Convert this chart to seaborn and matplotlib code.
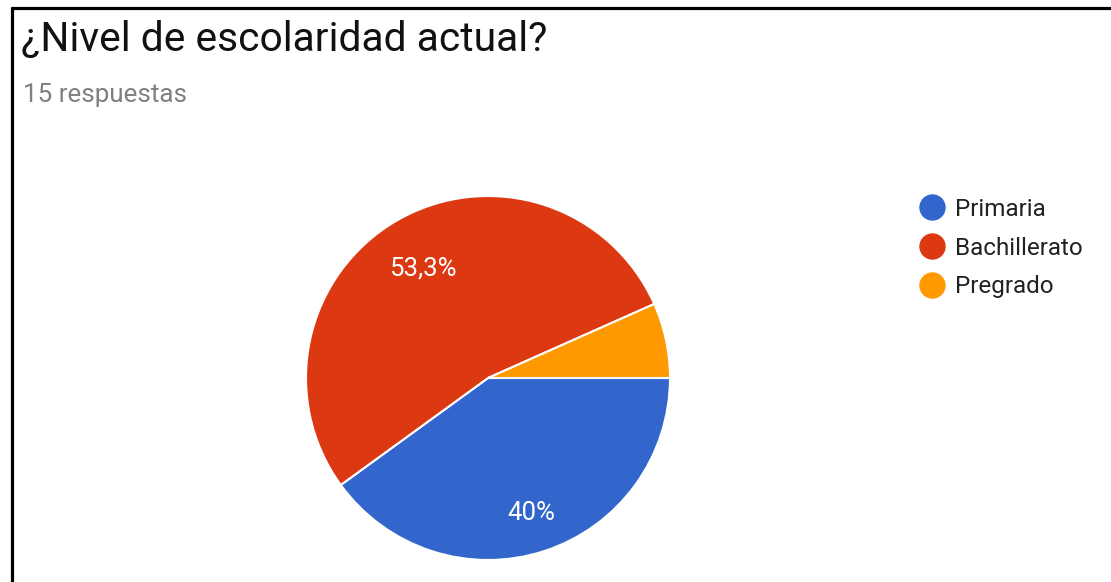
import matplotlib
matplotlib.use("Agg")
import matplotlib.pyplot as plt
from matplotlib.lines import Line2D
import numpy as np
import seaborn as sns

# Survey results: current education level
categories = ["Primaria", "Bachillerato", "Pregrado"]
counts = [6, 8, 1]
pct_labels = ["40%", "53,3%", ""]
colors = ["#3366CC", "#DC3912", "#FF9900"]
title = "¿Nivel de escolaridad actual?"
subtitle = "15 respuestas"

sns.set_theme(style="white")
plt.rcParams["font.family"] = ["Roboto", "DejaVu Sans"]

W, H = 1111, 582
fig = plt.figure(figsize=(W / 100, H / 100), dpi=100)
fig.patch.set_facecolor("white")

# square axes holding the pie
cx, cy, r = 488, 378, 182
ax = fig.add_axes([(cx - r) / W, (H - cy - r) / H, 2 * r / W, 2 * r / H])
wedges, _ = ax.pie(
    counts,
    colors=colors,
    startangle=0,
    counterclock=False,
    wedgeprops=dict(edgecolor="white", linewidth=1.5),
)
total = sum(counts)
theta = 0.0
for c, lab in zip(counts, pct_labels):
    span = 360.0 * c / total
    mid = np.deg2rad(theta - span / 2)
    if lab:
        ax.text(0.74 * np.cos(mid) + 0.01, 0.74 * np.sin(mid) - 0.04, lab,
                color="white", fontsize=18.5, ha="center", va="center")
    theta -= span
ax.set_xlim(-1, 1)
ax.set_ylim(-1, 1)
ax.set_aspect("equal")
ax.axis("off")

# header texts
fig.text(21 / W, 1 - 39 / H, title, fontsize=29.3, color="#111111",
         ha="left", va="center")
fig.text(23 / W, 1 - 95 / H, subtitle, fontsize=18.7, color="#808080",
         ha="left", va="center")

# legend
handles = [Line2D([0], [0], marker="o", linestyle="none", markersize=18,
                  markerfacecolor=col, markeredgecolor=col) for col in colors]
leg = fig.legend(handles, categories, loc="upper left",
                 bbox_to_anchor=(917 / W, 1 - 198 / H), frameon=False,
                 fontsize=17.5, labelspacing=0.64, handletextpad=0.36,
                 handlelength=1.2, borderaxespad=0, borderpad=0)
for t in leg.get_texts():
    t.set_color("#222222")

# frame lines (left and top)
fig.add_artist(Line2D([11.5 / W, 11.5 / W], [0, 1 - 7.5 / H], color="black",
                      linewidth=2.3, transform=fig.transFigure))
fig.add_artist(Line2D([11.5 / W, 1], [1 - 7.5 / H, 1 - 7.5 / H], color="black",
                      linewidth=2.3, transform=fig.transFigure))

fig.savefig("out.png", dpi=100, facecolor="white")
